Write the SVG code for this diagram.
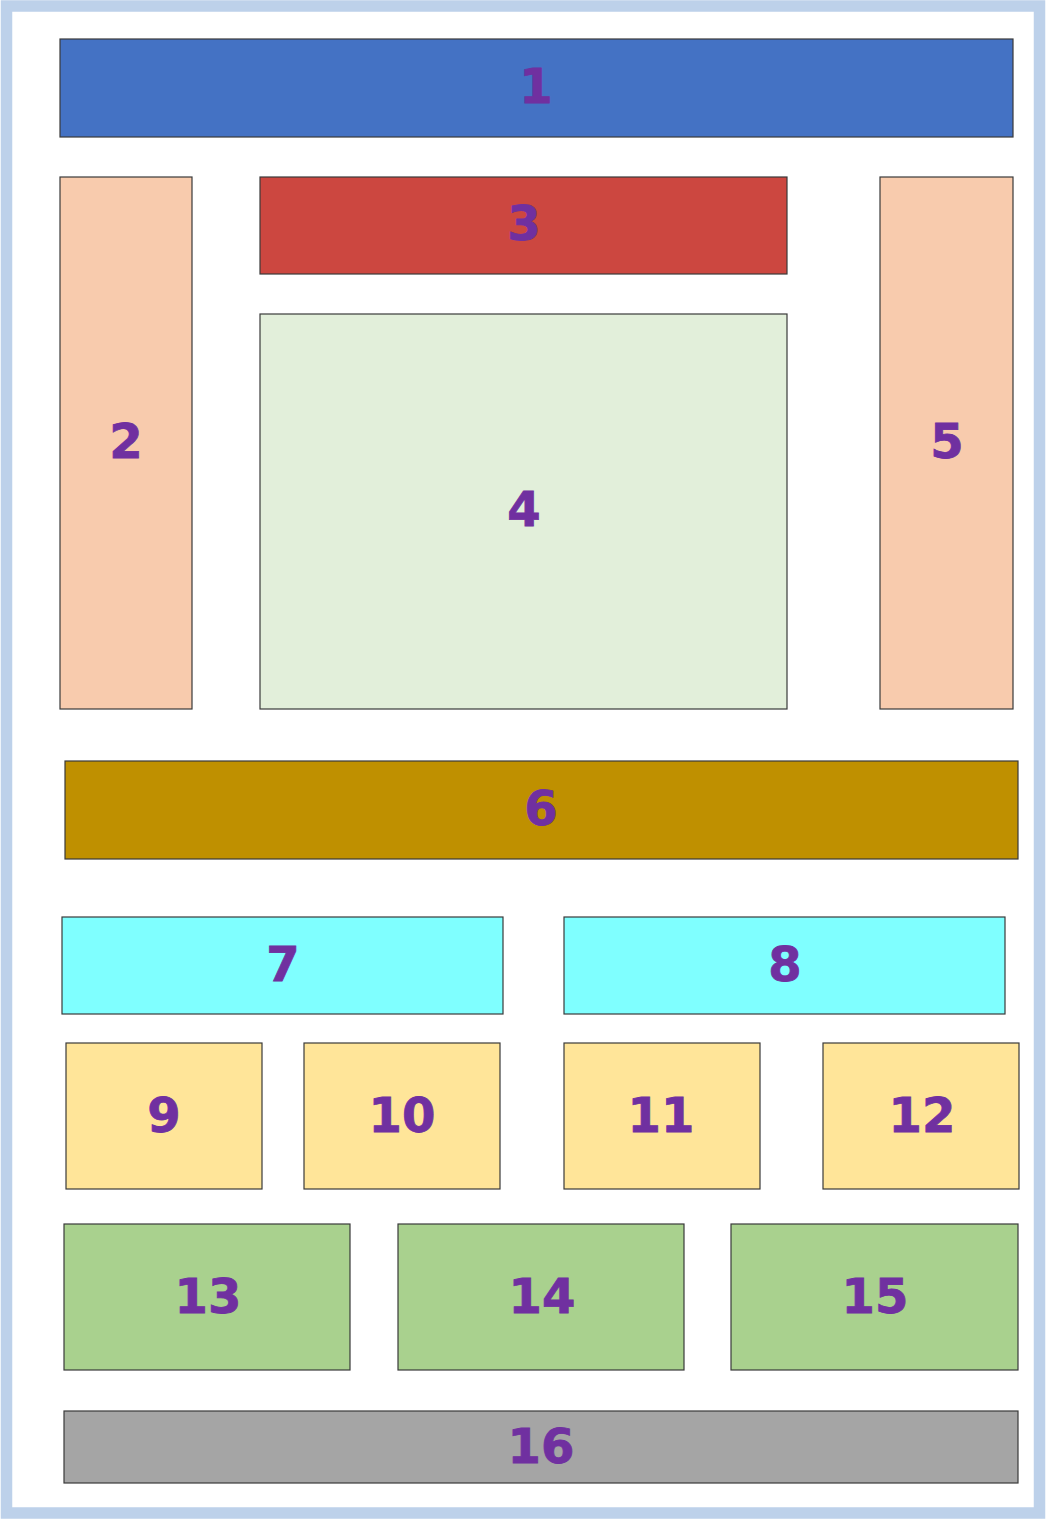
<svg xmlns="http://www.w3.org/2000/svg" width="1047" height="1520" viewBox="0 0 1047 1520">
<style>
.b{stroke:#3a3a3a;stroke-width:1.2}
.t{font-family:"DejaVu Sans",Verdana,sans-serif;font-weight:bold;font-size:48px;fill:#7030A0;stroke:#7030A0;stroke-width:0.8;text-anchor:middle}
</style>
<rect x="0" y="0" width="1047" height="1520" fill="#ffffff"/>
<rect x="6.5" y="6" width="1033" height="1507" fill="none" stroke="#BDD1EA" stroke-width="11.5"/>
<g id="n1"><rect class="b" x="60" y="39" width="953" height="98" fill="#4472C4"/><text class="t" x="536" y="103">1</text></g>
<g id="n2"><rect class="b" x="60" y="177" width="132" height="532" fill="#F8CBAD"/><text class="t" x="126" y="458">2</text></g>
<g id="n3"><rect class="b" x="260" y="177" width="527" height="97" fill="#CC4740"/><text class="t" x="524" y="240">3</text></g>
<g id="n4"><rect class="b" x="260" y="314" width="527" height="395" fill="#E2EFDA"/><text class="t" x="524" y="526">4</text></g>
<g id="n5"><rect class="b" x="880" y="177" width="133" height="532" fill="#F8CBAD"/><text class="t" x="947" y="458">5</text></g>
<g id="n6"><rect class="b" x="65" y="761" width="953" height="98" fill="#BF9000"/><text class="t" x="541" y="825">6</text></g>
<g id="n7"><rect class="b" x="62" y="917" width="441" height="97" fill="#7FFFFF"/><text class="t" x="283" y="981">7</text></g>
<g id="n8"><rect class="b" x="564" y="917" width="441" height="97" fill="#7FFFFF"/><text class="t" x="785" y="981">8</text></g>
<g id="n9"><rect class="b" x="66" y="1043" width="196" height="146" fill="#FFE599"/><text class="t" x="164" y="1132">9</text></g>
<g id="n10"><rect class="b" x="304" y="1043" width="196" height="146" fill="#FFE599"/><text class="t" x="402" y="1132">10</text></g>
<g id="n11"><rect class="b" x="564" y="1043" width="196" height="146" fill="#FFE599"/><text class="t" x="661" y="1132">11</text></g>
<g id="n12"><rect class="b" x="823" y="1043" width="196" height="146" fill="#FFE599"/><text class="t" x="922" y="1132">12</text></g>
<g id="n13"><rect class="b" x="64" y="1224" width="286" height="146" fill="#A9D18E"/><text class="t" x="208" y="1313">13</text></g>
<g id="n14"><rect class="b" x="398" y="1224" width="286" height="146" fill="#A9D18E"/><text class="t" x="542" y="1313">14</text></g>
<g id="n15"><rect class="b" x="731" y="1224" width="287" height="146" fill="#A9D18E"/><text class="t" x="875" y="1313">15</text></g>
<g id="n16"><rect class="b" x="64" y="1411" width="954" height="72" fill="#A5A5A5"/><text class="t" x="541" y="1463">16</text></g>
<g id="connectors"></g>
</svg>
